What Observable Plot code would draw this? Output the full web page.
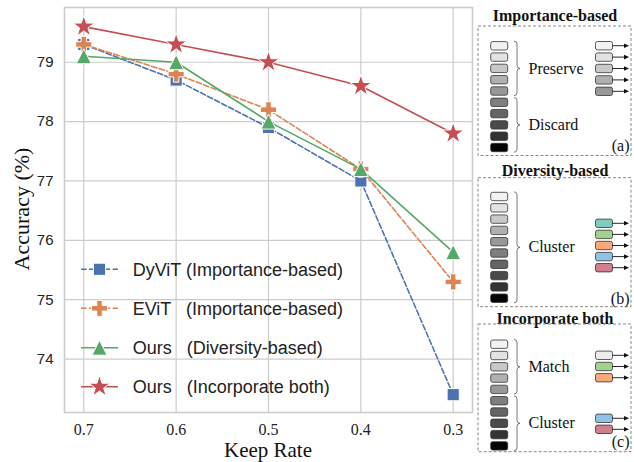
<!DOCTYPE html>
<html>
<head>
<meta charset="utf-8">
<script src="https://cdn.jsdelivr.net/npm/d3@7"></script>
<script src="https://cdn.jsdelivr.net/npm/@observablehq/plot@0.6"></script>
<style>
  body { margin: 0; background: white; }
  svg text { white-space: pre; }
</style>
</head>
<body>
<div id="chart"></div>
<script>
// ---- data ----
const keepRate = [0.7, 0.6, 0.5, 0.4, 0.3];
const dyvit    = [79.3, 78.7, 77.9, 77.0, 73.4];
const evit     = [79.3, 78.8, 78.2, 77.2, 75.3];
const oursDiv  = [79.1, 79.0, 78.0, 77.2, 75.8];
const oursBoth = [79.6, 79.3, 79.0, 78.6, 77.8];
const seriesNames = ["DyViT (Importance-based)", "EViT   (Importance-based)", "Ours   (Diversity-based)", "Ours   (Incorporate both)"];
const xTicks = [0.7, 0.6, 0.5, 0.4, 0.3];
const yTicks = [74, 75, 76, 77, 78, 79];
const xLabel = "Keep Rate";
const yLabel = "Accuracy (%)";
const panelTitles = ["Importance-based", "Diversity-based", "Incorporate both"];
const panelTags = ["(a)", "(b)", "(c)"];
const braceLabels = [["Preserve", "Discard"], ["Cluster"], ["Match", "Cluster"]];

// ---- symbols ----
function mk(fn) { return { draw(ctx, size) { fn(ctx, Math.sqrt(size)); } }; }
const symSquare = mk((c, s) => { const h = s * 0.52; c.moveTo(-h, -h); c.lineTo(h, -h); c.lineTo(h, h); c.lineTo(-h, h); c.closePath(); });
const symTri = mk((c, s) => { const h = s * 0.64; c.moveTo(0, -h); c.lineTo(h, h); c.lineTo(-h, h); c.closePath(); });
const symPlus = mk((c, s) => { const h = s * 0.69, t = h * 0.34;
  c.moveTo(-t, -h); c.lineTo(t, -h); c.lineTo(t, -t); c.lineTo(h, -t); c.lineTo(h, t); c.lineTo(t, t);
  c.lineTo(t, h); c.lineTo(-t, h); c.lineTo(-t, t); c.lineTo(-h, t); c.lineTo(-h, -t); c.lineTo(-t, -t); c.closePath(); });
const symStar = mk((c, s) => { const R = s * 0.97, r = R * 0.382;
  for (let i = 0; i < 10; i++) { const a = -Math.PI / 2 + i * Math.PI / 5; const rr = i % 2 ? r : R;
    const x = rr * Math.cos(a), y = rr * Math.sin(a); i ? c.lineTo(x, y) : c.moveTo(x, y); } c.closePath(); });

const styles = [
  { color: "#4C72B0", dash: "5.5,2.4", symbol: symSquare },
  { color: "#DD8452", dash: "5.5,2.4", symbol: symPlus },
  { color: "#55A868", dash: null, symbol: symTri },
  { color: "#C44E52", dash: null, symbol: symStar }
];
const seriesValues = [dyvit, evit, oursDiv, oursBoth];
const series = seriesValues.map((vals, i) => keepRate.map((k, j) => ({ k, v: vals[j], s: seriesNames[i] })));

const R = 6.6;
const marks = [
  Plot.gridX(xTicks, { stroke: "#cccccc", strokeOpacity: 1, strokeWidth: 1.2 }),
  Plot.gridY(yTicks, { stroke: "#cccccc", strokeOpacity: 1, strokeWidth: 1.2 }),
  Plot.frame({ stroke: "#cccccc", strokeWidth: 1.6 }),
  Plot.axisX(xTicks, { tickSize: 0, tickPadding: 11.5, tickFormat: d3.format(".1f"), fontFamily: "Liberation Serif", fontSize: 16, fill: "#222", label: null }),
  Plot.axisY(yTicks, { tickSize: 0, tickPadding: 11, tickFormat: d3.format("d"), fontFamily: "Liberation Sans", fontSize: 15, fill: "#222", label: null })
];
series.forEach((data, i) => {
  const st = styles[i];
  marks.push(Plot.line(data, { x: "k", y: "v", stroke: st.color, strokeWidth: 1.6, strokeDasharray: st.dash }));
  marks.push(Plot.dot(data, { x: "k", y: "v", r: R, symbol: st.symbol, fill: st.color, stroke: "white", strokeWidth: 1 }));
});

const plot = Plot.plot({
  width: 634, height: 462,
  marginLeft: 64, marginRight: 162, marginTop: 7, marginBottom: 50,
  x: { domain: [0.7209, 0.2791] },
  y: { domain: [73.1, 79.922] },
  r: { type: "identity" },
  style: { background: "white", overflow: "visible" },
  marks
});
document.getElementById("chart").appendChild(plot);

const svg = d3.select(plot);

// ---- axis titles ----
svg.append("text").attr("x", 268).attr("y", 449.8).attr("dy", "0.35em").attr("text-anchor", "middle")
  .attr("font-family", "Liberation Serif").attr("font-size", 21).attr("fill", "#111").text(xLabel);
svg.append("text").attr("transform", "translate(21,209) rotate(-90)").attr("dy", "0.35em").attr("text-anchor", "middle")
  .attr("font-family", "Liberation Serif").attr("font-size", 22).attr("fill", "#111").text(yLabel);

// ---- legend ----
const lg = svg.append("g");
const legY = [269.3, 308.3, 347.7, 386.7];
const symArea = Math.PI * R * R;
seriesNames.forEach((name, i) => {
  const st = styles[i], y = legY[i];
  lg.append("line").attr("x1", 81).attr("x2", 118).attr("y1", y).attr("y2", y)
    .attr("stroke", st.color).attr("stroke-width", 1.6).attr("stroke-dasharray", st.dash);
  lg.append("path").attr("d", d3.symbol(st.symbol, symArea)()).attr("transform", `translate(99.5,${y})`)
    .attr("fill", st.color).attr("stroke", "white").attr("stroke-width", 1);
  lg.append("text").attr("x", 132.7).attr("y", y).attr("dy", "0.35em").attr("text-anchor", "start").text(name)
    .attr("font-family", "Liberation Sans").attr("font-size", 18).attr("fill", "#222");
});

// ---- right diagram ----
const grays = ["#f2f2f2", "#e2e2e2", "#c8c8c8", "#b0b0b0", "#989898", "#7e7e7e", "#656565", "#4a4a4a", "#333333", "#050505"];
const colTeal = "#7fcdbd", colGreen = "#a5d18e", colOrange = "#f8a87b", colBlue = "#8fc3e6", colPink = "#d17f8b";
const panels = [
  { titleY: 15, boxY1: 26, boxY2: 155.5, tok0: 45.8, braces: [[0, 4], [5, 9]],
    right: [[45.7, grays[0]], [57.1, grays[1]], [68.5, grays[2]], [79.9, grays[3]], [91.3, grays[4]]], tagY: 145 },
  { titleY: 170, boxY1: 177.7, boxY2: 306.7, tok0: 196.5, braces: [[0, 9]],
    right: [[223.3, colTeal], [234.4, colGreen], [245.5, colOrange], [256.6, colBlue], [267.7, colPink]], tagY: 298.3 },
  { titleY: 318.3, boxY1: 324, boxY2: 451.7, tok0: 344.2, braces: [[0, 4], [5, 9]],
    right: [[355.3, "#ececec"], [366.5, colGreen], [377.7, colOrange], [418.3, colBlue], [429.3, colPink]], tagY: 441.7 }
];
const dg = svg.append("g").attr("text-anchor", "start");
const pitch = 11.3, th = 8.4, tw = 17;
panels.forEach((p, pi) => {
  dg.append("text").attr("x", 555).attr("y", p.titleY).attr("dy", "0.35em").attr("text-anchor", "middle")
    .attr("font-family", "Liberation Serif").attr("font-weight", "bold").attr("font-size", 16).attr("fill", "#111").text(panelTitles[pi]);
  dg.append("rect").attr("x", 478).attr("y", p.boxY1).attr("width", 153).attr("height", p.boxY2 - p.boxY1)
    .attr("fill", "none").attr("stroke", "#888").attr("stroke-width", 1).attr("stroke-dasharray", "3,2");
  for (let i = 0; i < 10; i++) {
    const cy = p.tok0 + i * pitch;
    dg.append("rect").attr("x", 490.7).attr("y", cy - th / 2).attr("width", tw).attr("height", th).attr("rx", 2)
      .attr("fill", grays[i]).attr("stroke", "#333").attr("stroke-width", 0.8);
  }
  p.braces.forEach(([a, b], bi) => {
    const y1 = p.tok0 + a * pitch - th / 2 - 0.5, y2 = p.tok0 + b * pitch + th / 2 + 0.5, ym = (y1 + y2) / 2, x = 514, w = 3;
    dg.append("path").attr("d", `M${x},${y1} Q${x + w},${y1} ${x + w},${y1 + w} L${x + w},${ym - w} Q${x + w},${ym} ${x + 2 * w},${ym} Q${x + w},${ym} ${x + w},${ym + w} L${x + w},${y2 - w} Q${x + w},${y2} ${x},${y2}`)
      .attr("fill", "none").attr("stroke", "#555").attr("stroke-width", 0.8);
    dg.append("text").attr("x", 528.5).attr("y", ym).attr("dy", "0.32em").attr("text-anchor", "start")
      .attr("font-family", "Liberation Serif").attr("font-size", 16).attr("fill", "#111").text(braceLabels[pi][bi]);
  });
  p.right.forEach(([cy, col]) => {
    dg.append("rect").attr("x", 595.5).attr("y", cy - th / 2).attr("width", tw).attr("height", th).attr("rx", 2)
      .attr("fill", col).attr("stroke", "#333").attr("stroke-width", 0.8);
    dg.append("line").attr("x1", 612.5).attr("x2", 625).attr("y1", cy).attr("y2", cy).attr("stroke", "#111").attr("stroke-width", 0.9);
    dg.append("path").attr("d", `M624,${cy - 2.3} L629,${cy} L624,${cy + 2.3} Z`).attr("fill", "#111");
  });
  dg.append("text").attr("x", 629.5).attr("y", p.tagY).attr("dy", "0.35em").attr("text-anchor", "end")
    .attr("font-family", "Liberation Serif").attr("font-size", 16).attr("fill", "#111").text(panelTags[pi]);
});
</script>
</body>
</html>
